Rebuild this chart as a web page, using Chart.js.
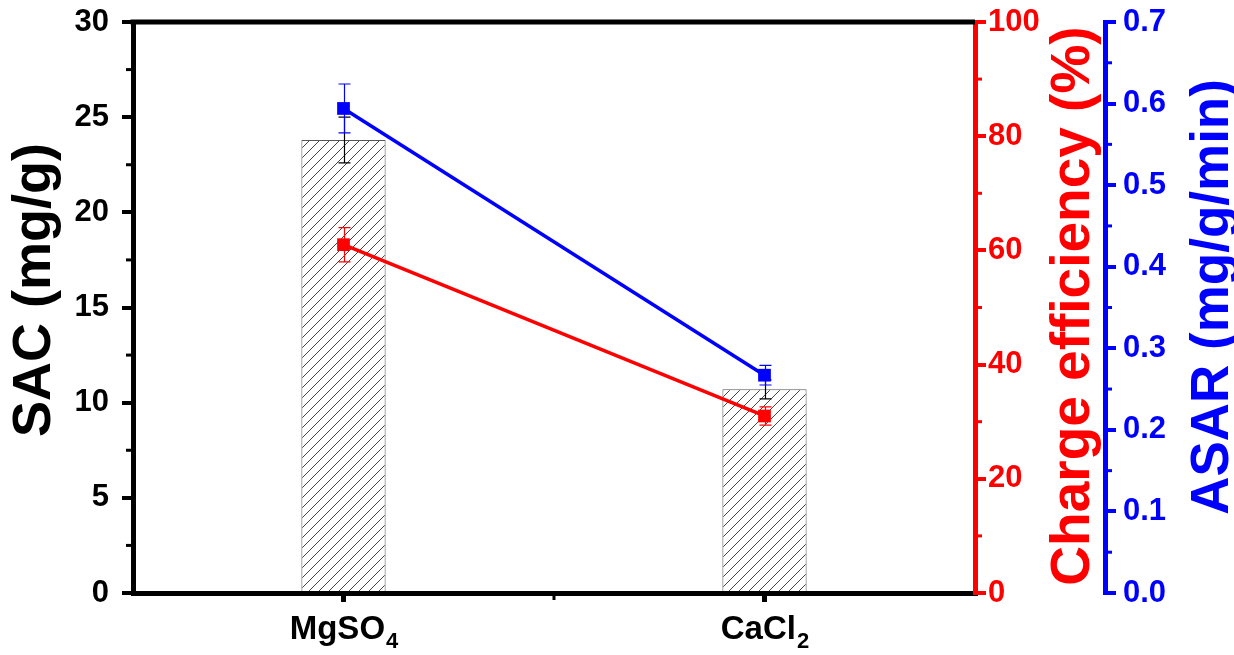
<!DOCTYPE html>
<html>
<head>
<meta charset="utf-8">
<script src="https://cdn.jsdelivr.net/npm/chart.js@4.4.1/dist/chart.umd.min.js"></script>
<style>
html, body { margin: 0; padding: 0; background: #fff; }
#wrap { width: 1234px; height: 655px; position: relative; }
</style>
</head>
<body>
<div id="wrap"><canvas id="saltChart"></canvas></div>
<script>
// salts and measured values (mean and error)
const categories = ["MgSO4", "CaCl2"];
const sac = [23.8, 10.7];
const sacErr = [1.2, 0.5];
const chargeEff = [61, 31];
const chargeEffErr = [3.0, 1.6];
const asar = [0.594, 0.267];
const asarErr = [0.030, 0.012];

// axis ranges: [min, max, step]
const sacRange = [0, 30, 5];
const ceRange = [0, 100, 20];
const asarRange = [0, 0.7, 0.1];

const LABEL_FONT = "'Liberation Sans', Arial, sans-serif";

function hatchPattern(ctx) {
    const c = document.createElement("canvas");
    c.width = 10;
    c.height = 10;
    const g = c.getContext("2d");
    g.fillStyle = "#fff";
    g.fillRect(0, 0, 10, 10);
    g.strokeStyle = "#444";
    g.lineWidth = 1;
    g.beginPath();
    g.moveTo(-1, 11); g.lineTo(11, -1);
    g.moveTo(-6, 6); g.lineTo(6, -6);
    g.moveTo(4, 16); g.lineTo(16, 4);
    g.stroke();
    return ctx.createPattern(c, "repeat");
}

// error bars, drawn under line markers and over the bars
function drawErrors(chart, index) {
    const ds = chart.data.datasets[index];
    if (!ds.errors) return;
    const ctx = chart.ctx;
    const yScale = chart.scales[ds.yAxisID];
    const meta = chart.getDatasetMeta(index);
    ctx.save();
    ctx.strokeStyle = ds.errorColor;
    ctx.lineWidth = 1.2;
    meta.data.forEach((el, j) => {
        const x = Math.round(el.x) + 0.5;
        const top = yScale.getPixelForValue(ds.data[j] + ds.errors[j]);
        const bot = yScale.getPixelForValue(ds.data[j] - ds.errors[j]);
        ctx.beginPath();
        ctx.moveTo(x, top); ctx.lineTo(x, bot);
        ctx.moveTo(x - 6, top); ctx.lineTo(x + 6, top);
        ctx.moveTo(x - 6, bot); ctx.lineTo(x + 6, bot);
        ctx.stroke();
    });
    ctx.restore();
}

const errorBars = {
    id: "errorBars",
    beforeDatasetDraw(chart, args) {
        if (chart.data.datasets[args.index].type === "line") drawErrors(chart, args.index);
    },
    afterDatasetDraw(chart, args) {
        if (chart.data.datasets[args.index].type !== "line") drawErrors(chart, args.index);
    }
};

// top frame, minor ticks, axis titles and subscripted category labels
const decorations = {
    id: "decorations",
    afterDraw(chart) {
        const ctx = chart.ctx;
        const area = chart.chartArea;
        ctx.save();

        ctx.strokeStyle = "#000";
        ctx.lineWidth = 5;
        ctx.beginPath();
        ctx.moveTo(area.left - 2.5, area.top);
        ctx.lineTo(area.right, area.top);
        ctx.stroke();

        const minor = [
            { id: "y", color: "#000", dir: -1 },
            { id: "yCE", color: "#ff0000", dir: 1 },
            { id: "yASAR", color: "#0000ff", dir: 1 }
        ];
        minor.forEach(m => {
            const s = chart.scales[m.id];
            const step = s.options.ticks.stepSize;
            const x0 = m.dir < 0 ? s.right : s.left;
            ctx.strokeStyle = m.color;
            ctx.lineWidth = 3;
            for (let v = s.min + step / 2; v < s.max; v += step) {
                const y = s.getPixelForValue(v);
                ctx.beginPath();
                ctx.moveTo(x0, y);
                ctx.lineTo(x0 + m.dir * 7, y);
                ctx.stroke();
            }
        });

        const xs = chart.scales.x;
        ctx.strokeStyle = "#000";
        ctx.lineWidth = 3;
        for (let i = 0; i < categories.length - 1; i++) {
            const x = (xs.getPixelForTick(i) + xs.getPixelForTick(i + 1)) / 2;
            ctx.beginPath();
            ctx.moveTo(x, xs.top);
            ctx.lineTo(x, xs.top + 7);
            ctx.stroke();
        }

        ctx.fillStyle = "#000";
        ctx.textBaseline = "alphabetic";
        categories.forEach((label, i) => {
            const m = label.match(/^(.*?)(\d*)$/);
            const main = m[1], sub = m[2];
            ctx.font = "bold 33px " + LABEL_FONT;
            const wMain = ctx.measureText(main).width;
            ctx.font = "bold 22px " + LABEL_FONT;
            const wSub = ctx.measureText(sub).width;
            const cx = xs.getPixelForTick(i);
            const x0 = cx - (wMain + wSub) / 2;
            ctx.textAlign = "left";
            ctx.font = "bold 33px " + LABEL_FONT;
            ctx.fillText(main, x0, 639);
            ctx.font = "bold 22px " + LABEL_FONT;
            ctx.fillText(sub, x0 + wMain + 1, 648);
        });

        const titles = [
            { text: "SAC (mg/g)", color: "#000", x: 50, y: 290, size: 54 },
            { text: "Charge efficiency (%)", color: "#ff0000", x: 1089, y: 306, size: 55 },
            { text: "ASAR (mg/g/min)", color: "#0000ff", x: 1228, y: 297, size: 53 }
        ];
        titles.forEach(t => {
            ctx.save();
            ctx.translate(t.x, t.y);
            ctx.rotate(-Math.PI / 2);
            ctx.font = "bold " + t.size + "px " + LABEL_FONT;
            ctx.fillStyle = t.color;
            ctx.textAlign = "center";
            ctx.textBaseline = "alphabetic";
            ctx.fillText(t.text, 0, 0);
            ctx.restore();
        });

        ctx.restore();
    }
};

const canvas = document.getElementById("saltChart");
const ctx = canvas.getContext("2d");

function yAxis(range, color, position, width, padding, weight, fmt) {
    return {
        type: "linear",
        position: position,
        weight: weight,
        min: range[0],
        max: range[1],
        ticks: {
            stepSize: range[2],
            color: color,
            padding: padding,
            font: { family: LABEL_FONT, size: 31, weight: "bold" },
            callback: fmt
        },
        grid: {
            drawOnChartArea: false,
            drawTicks: true,
            tickLength: 11,
            lineWidth: 4,
            tickWidth: 4,
            tickColor: color,
            color: color
        },
        border: { display: true, color: color, width: 5 },
        afterFit: scale => {
            scale.width = width;
            scale.paddingTop = 0;
            scale.paddingBottom = 0;
        }
    };
}

new Chart(canvas, {
    data: {
        labels: categories,
        datasets: [
            {
                type: "line",
                label: "ASAR",
                data: asar,
                errors: asarErr,
                errorColor: "#0000ff",
                yAxisID: "yASAR",
                borderColor: "#0000ff",
                backgroundColor: "#0000ff",
                borderWidth: 3.5,
                pointStyle: "rect",
                pointRadius: 9,
                pointBorderWidth: 0,
                order: 1
            },
            {
                type: "line",
                label: "Charge efficiency",
                data: chargeEff,
                errors: chargeEffErr,
                errorColor: "#ff0000",
                yAxisID: "yCE",
                borderColor: "#ff0000",
                backgroundColor: "#ff0000",
                borderWidth: 3.5,
                pointStyle: "rect",
                pointRadius: 9,
                pointBorderWidth: 0,
                order: 2
            },
            {
                type: "bar",
                label: "SAC",
                data: sac,
                errors: sacErr,
                errorColor: "#000",
                yAxisID: "y",
                backgroundColor: hatchPattern(ctx),
                borderColor: "#555",
                borderWidth: 1,
                categoryPercentage: 1,
                barPercentage: 0.2,
                order: 3
            }
        ]
    },
    options: {
        responsive: true,
        maintainAspectRatio: false,
        animation: false,
        layout: { padding: { top: 22, left: 0, right: 0, bottom: 0 } },
        plugins: {
            legend: { display: false },
            tooltip: { enabled: false }
        },
        scales: {
            x: {
                type: "category",
                offset: true,
                ticks: { display: false },
                grid: {
                    offset: false,
                    drawOnChartArea: false,
                    tickLength: 9,
                    lineWidth: 5,
                    tickWidth: 5,
                    tickColor: "#000",
                    color: "#000"
                },
                border: { display: true, color: "#000", width: 5 },
                afterFit: scale => {
                    scale.height = 62;
                    scale.paddingLeft = 0;
                    scale.paddingRight = 0;
                }
            },
            y: yAxis(sacRange, "#000", "left", 133, 13, 0, v => v),
            yCE: yAxis(ceRange, "#ff0000", "right", 130, 2, 1, v => v),
            yASAR: yAxis(asarRange, "#0000ff", "right", 129, 7, 2, v => Number(v).toFixed(1))
        }
    },
    plugins: [errorBars, decorations]
});
</script>
</body>
</html>
